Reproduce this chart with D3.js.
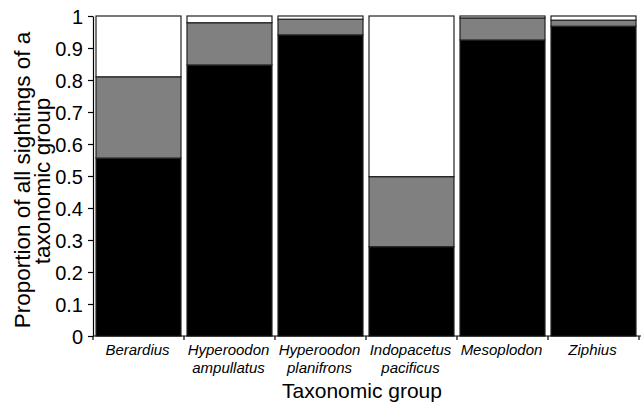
<!DOCTYPE html>
<html><head><meta charset="utf-8">
<script src="https://cdn.jsdelivr.net/npm/d3@7"></script>
<style>body{margin:0;background:#fff}svg{display:block}</style>
</head><body>
<svg id="c" width="643" height="405"></svg>
<script>
const categories = [["Berardius"],["Hyperoodon","ampullatus"],["Hyperoodon","planifrons"],["Indopacetus","pacificus"],["Mesoplodon"],["Ziphius"]];
const blackVals = [0.556, 0.847, 0.941, 0.279, 0.925, 0.968];
const grayVals  = [0.254, 0.132, 0.049, 0.219, 0.069, 0.019];
const whiteVals = [0.190, 0.021, 0.010, 0.502, 0.006, 0.013];
const seriesColors = ["#000000", "#808080", "#ffffff"];
const yTicks = [0,0.1,0.2,0.3,0.4,0.5,0.6,0.7,0.8,0.9,1];
const FONT = "'Liberation Sans', Arial, sans-serif";

const svg = d3.select("#c");
const x = d3.scaleBand().domain(categories.map((d,i)=>i)).range([93, 639]).paddingInner(0.066).paddingOuter(0.033);
const y = d3.scaleLinear().domain([0,1]).range([336, 16]);

const series = [blackVals, grayVals, whiteVals];
categories.forEach((c,i)=>{
  let base = 0;
  series.forEach((s,k)=>{
    const v = s[i];
    svg.append("rect")
      .attr("x", x(i)).attr("width", x.bandwidth())
      .attr("y", y(base+v)).attr("height", y(base)-y(base+v))
      .attr("fill", seriesColors[k]).attr("stroke", "#222").attr("stroke-width", 1.2);
    base += v;
  });
});

// y axis
const ya = svg.append("g").attr("transform", `translate(93,0)`)
  .call(d3.axisLeft(y).tickValues(yTicks).tickFormat(d=>String(+d.toFixed(1))).tickSize(5).tickSizeOuter(0));
ya.select(".domain").attr("stroke","#000").attr("stroke-width",1.2);
ya.selectAll(".tick line").attr("stroke","#000").attr("stroke-width",1.2);
ya.selectAll(".tick text").attr("font-family",FONT).attr("font-size",20).attr("fill","#000").attr("x",-10).attr("dy","0.36em");

// x axis with boundary ticks
const xg = svg.append("g");
const step = x.step();
const x0 = x.range()[0];
xg.append("line").attr("x1", x0).attr("x2", x.range()[1]+2).attr("y1", y(0)).attr("y2", y(0)).attr("stroke","#000").attr("stroke-width",1.2);
d3.range(categories.length+1).forEach(i=>{
  const b = x0 + i*step;
  xg.append("line").attr("x1", b).attr("x2", b).attr("y1", y(0)).attr("y2", y(0)+4).attr("stroke","#000").attr("stroke-width",1.2);
});
categories.forEach((c,i)=>{
  const cx = x(i)+x.bandwidth()/2 - 1;
  c.forEach((line,j)=>{
    xg.append("text").attr("x", cx).attr("y", 355 + j*17.5)
      .attr("text-anchor","middle").attr("font-family",FONT)
      .attr("font-style","italic").attr("font-size",15).attr("fill","#000").text(line);
  });
});

// titles
svg.append("text").attr("x", 362).attr("y", 398).attr("text-anchor","middle")
  .attr("font-family",FONT).attr("font-size",21).text("Taxonomic group");
const yl = svg.append("text").attr("transform","translate(30,180) rotate(-90)").attr("text-anchor","middle")
  .attr("font-family",FONT).attr("font-size",22.5);
yl.append("tspan").attr("x",0).attr("dy",0).text("Proportion of all sightings of a");
yl.append("tspan").attr("x",-1).attr("dy",20).text("taxonomic group");
</script>
</body></html>
